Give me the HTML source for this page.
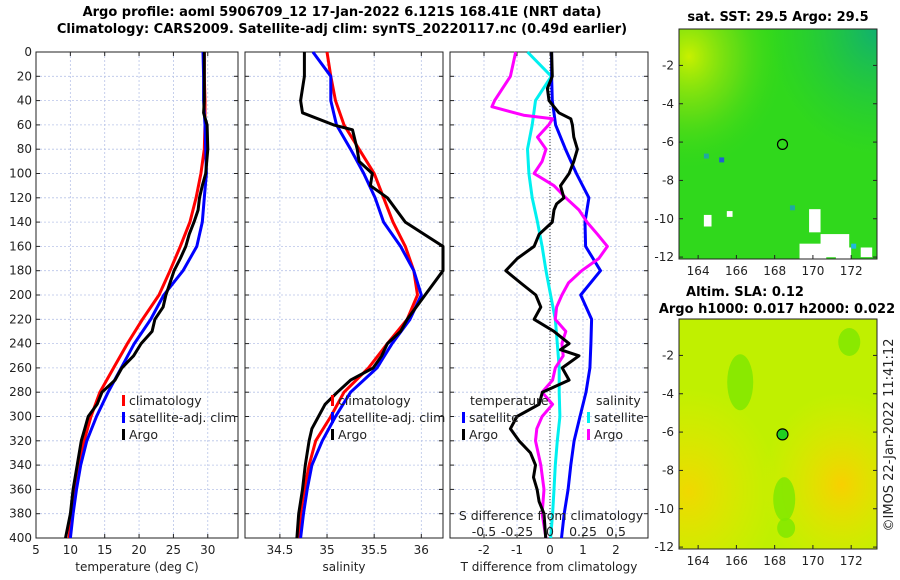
<!DOCTYPE html>
<html><head><meta charset="utf-8"><style>
body{margin:0;background:#fff;}
svg{display:block;font-family:"DejaVu Sans","Liberation Sans",sans-serif;}
.t{font-size:12px;fill:#222;}
.b{font-weight:bold;font-size:13px;fill:#000;}
</style></head><body>
<svg id="c" width="900" height="580" viewBox="0 0 900 580">
<defs>
<radialGradient id="gTL" cx="0.05" cy="0.12" r="0.5"><stop offset="0" stop-color="#c8f000"/><stop offset="0.5" stop-color="#80e010" stop-opacity="0.6"/><stop offset="1" stop-color="#32d818" stop-opacity="0"/></radialGradient>
<radialGradient id="gTR" cx="1" cy="0" r="0.55"><stop offset="0" stop-color="#10b070"/><stop offset="1" stop-color="#20c840" stop-opacity="0"/></radialGradient>
<radialGradient id="gO1" cx="0.82" cy="0.72" r="0.4"><stop offset="0" stop-color="#f8d000"/><stop offset="1" stop-color="#e8e800" stop-opacity="0"/></radialGradient>
<radialGradient id="gO2" cx="0.05" cy="0.75" r="0.45"><stop offset="0" stop-color="#f0d800"/><stop offset="1" stop-color="#e8e800" stop-opacity="0"/></radialGradient>
</defs>
<g>
<text class="b" x="342" y="16" text-anchor="middle">Argo profile: aoml 5906709_12 17-Jan-2022 6.121S 168.41E (NRT data)</text>
<text class="b" x="342" y="33" text-anchor="middle">Climatology: CARS2009. Satellite-adj clim: synTS_20220117.nc (0.49d earlier)</text>
<text class="b" x="778" y="21" text-anchor="middle">sat. SST: 29.5 Argo: 29.5</text>
<text class="b" x="745" y="296" text-anchor="middle">Altim. SLA: 0.12</text>
<text class="b" x="777" y="313" text-anchor="middle">Argo h1000: 0.017 h2000: 0.022</text>
<text class="t" transform="translate(893,435) rotate(-90)" text-anchor="middle" style="font-size:13px">©IMOS 22-Jan-2022 11:41:12</text>
</g>
<g id="maps"></g>
<g id="panels"></g>
</svg>
<script>
// ---------- data ----------
const depthTicks=[0,20,40,60,80,100,120,140,160,180,200,220,240,260,280,300,320,340,360,380,400];
const tempTicks=[5,10,15,20,25,30];
const salTicks=[34.5,35,35.5,36];
const diffTicks=[-2,-1,0,1,2];
const sdiffTickLabels=["-0.5","-0.25","0","0.25","0.5"];
const sdiffTicks=[-0.5,-0.25,0,0.25,0.5];

const climDepth=[0,20,40,60,80,100,120,140,160,180,200,220,240,260,280,300,320,340,360,380,400];
const tempClim=[29.5,29.5,29.6,29.6,29.5,29.0,28.3,27.4,26.0,24.5,22.9,20.5,18.3,16.3,14.3,13.0,12.0,11.3,10.7,10.2,9.8];
const tempSat=[29.3,29.4,29.4,29.6,29.7,29.8,29.5,29.2,28.4,26.4,23.6,21.7,19.3,17.4,15.5,13.8,12.4,11.5,10.9,10.4,10.0];
const salClim=[35.0,35.04,35.09,35.18,35.34,35.5,35.6,35.7,35.83,35.92,35.96,35.85,35.64,35.44,35.18,35.04,34.88,34.81,34.76,34.72,34.7];
const salSat=[34.85,35.04,35.04,35.1,35.25,35.39,35.51,35.6,35.78,35.92,36.0,35.88,35.69,35.53,35.25,35.09,34.95,34.84,34.79,34.75,34.72];

const argoTDepth=[0,40,50,60,80,100,110,120,130,140,150,160,170,180,190,200,210,220,230,240,250,260,270,280,290,300,310,320,340,360,380,400];
const argoTemp=[29.5,29.5,29.4,29.9,30.0,29.7,29.2,28.8,28.6,28.0,27.3,26.8,26.0,25.1,24.5,23.9,23.5,22.3,21.9,20.3,19.2,17.5,16.5,14.6,13.9,12.6,12.1,11.6,11.0,10.4,10.0,9.3];
const argoSDepth=[0,20,40,50,60,64,80,90,100,110,120,140,150,160,170,180,200,220,230,240,250,260,270,280,290,300,310,320,340,360,380,400];
const argoSal=[34.76,34.76,34.72,34.74,35.07,35.27,35.32,35.34,35.48,35.46,35.64,35.83,36.03,36.26,36.4,36.24,36.04,35.85,35.78,35.64,35.58,35.49,35.25,35.11,34.98,34.91,34.84,34.81,34.77,34.74,34.70,34.68];

const tDiffSat=[0.05,0.05,0.07,0.17,0.47,0.8,1.18,1.06,1.08,1.53,0.93,1.26,1.24,1.21,1.09,0.91,0.73,0.63,0.55,0.43,0.35];
const sDiffSat=[-0.17,0.01,-0.11,-0.135,-0.17,-0.16,-0.135,-0.095,-0.06,-0.03,0.005,0.04,0.055,0.07,0.07,0.075,0.055,0.04,0.03,0.02,0.005];
const diffTDepth=[0,20,30,40,50,55,60,70,80,90,100,110,120,125,130,140,150,160,170,180,190,200,210,220,230,240,245,250,260,270,280,290,300,310,320,330,340,350,360,370,380,400];
const tDiffArgo=[0.05,0.07,-0.08,-0.03,0.27,0.63,0.68,0.72,0.83,0.72,0.58,0.32,0.42,0.2,0.12,0.07,-0.33,-0.48,-0.99,-1.34,-0.89,-0.43,-0.28,-0.48,0.12,0.58,0.32,0.88,0.37,0.58,-0.23,-0.33,-1.0,-1.2,-0.94,-0.59,-0.44,-0.5,-0.39,-0.33,-0.18,-0.13];
const diffSDepth=[0,20,30,40,45,52,55,60,70,80,90,100,110,120,130,140,150,160,170,180,190,200,210,220,230,240,250,260,270,280,290,300,310,320,340,360,380,400];
const sDiffArgo=[-0.26,-0.3,-0.36,-0.42,-0.44,-0.2,0.02,-0.01,-0.095,-0.03,-0.06,-0.12,0.03,0.12,0.22,0.28,0.36,0.435,0.37,0.24,0.14,0.09,0.05,0.04,0.12,0.09,0.1,0.04,0.02,-0.06,0.02,-0.06,-0.1,-0.11,-0.07,-0.045,-0.06,-0.03];

// ---------- scales ----------
const Y0=52,Y1=538;
const yD=d=>Y0+(d/400)*(Y1-Y0);
const P1={x0:36,x1:238,v0:5,v1:34.4};
const P2={x0:245,x1:443,v0:34.13,v1:36.23};
const P3={x0:450,x1:648,v0:-3.03,v1:2.97};
const xs=(p,v)=>p.x0+(v-p.v0)/(p.v1-p.v0)*(p.x1-p.x0);
const NS='http://www.w3.org/2000/svg';
function mk(tag,attrs,parent){const e=document.createElementNS(NS,tag);for(const k in attrs)e.setAttribute(k,attrs[k]);parent.appendChild(e);return e;}
const G=document.getElementById('panels');

function panel(p,name,xt,xl,xlabel,showY){
  const g=mk('g',{},G);
  
  
  depthTicks.forEach(d=>{const l=mk('line',{x1:p.x0,x2:p.x1,y1:yD(d),y2:yD(d),stroke:'#b8c4e8','stroke-width':0.8,'stroke-dasharray':'2,2'},g);
    });
  xt.forEach(v=>{const l=mk('line',{x1:xs(p,v),x2:xs(p,v),y1:Y0,y2:Y1,stroke:'#b8c4e8','stroke-width':0.8,'stroke-dasharray':'2,2'},g);
    });
  depthTicks.forEach(d=>{mk('line',{x1:p.x0,x2:p.x0+4,y1:yD(d),y2:yD(d),stroke:'#222'},g);mk('line',{x1:p.x1-4,x2:p.x1,y1:yD(d),y2:yD(d),stroke:'#222'},g);
    if(showY){const t=mk('text',{x:p.x0-4,y:yD(d)+4,'text-anchor':'end',class:'t'},g);t.textContent=d;
      }});
  xt.forEach((v,i)=>{const x=xs(p,v);mk('line',{x1:x,x2:x,y1:Y1,y2:Y1-4,stroke:'#222'},g);mk('line',{x1:x,x2:x,y1:Y0,y2:Y0+4,stroke:'#222'},g);
    const t=mk('text',{x:x,y:554,'text-anchor':'middle',class:'t'},g);t.textContent=xl[i];
    });
  const r=mk('rect',{x:p.x0,y:Y0,width:p.x1-p.x0,height:Y1-Y0,fill:'none',stroke:'#222','stroke-width':1},g);
  
  const t=mk('text',{x:(p.x0+p.x1)/2,y:571,'text-anchor':'middle',class:'t'},g);t.textContent=xlabel;
  
  return g;
}
function line(g,p,vals,deps,color,name,scale){
  scale=scale||1;
  const pts=vals.map((v,i)=>[Math.max(p.x0,Math.min(p.x1,xs(p,v*scale))),yD(deps[i])]);
  const pl=mk('polyline',{points:pts.map(q=>q[0].toFixed(1)+','+q[1].toFixed(1)).join(' '),fill:'none',stroke:color,'stroke-width':3,'stroke-linejoin':'round'},g);
  
  
}
function legend(g,x,y,color,label){
  const r=mk('rect',{x:x,y:y-10,width:3,height:11,fill:color},g);
  
  const t=mk('text',{x:x+7,y:y,class:'t',style:'font-size:12.5px'},g);t.textContent=label;
  
}
const g1=panel(P1,'temperature-panel',tempTicks,tempTicks.map(String),'temperature (deg C)',true);
line(g1,P1,tempClim,climDepth,'#ff0000','temp-climatology-line');
line(g1,P1,tempSat,climDepth,'#0000ff','temp-satellite-line');
line(g1,P1,argoTemp,argoTDepth,'#000','temp-argo-line');
legend(g1,122,405,'#ff0000','climatology');legend(g1,122,422,'#0000ff','satellite-adj. clim');legend(g1,122,439,'#000','Argo');

const g2=panel(P2,'salinity-panel',salTicks,salTicks.map(String),'salinity',false);
line(g2,P2,salClim,climDepth,'#ff0000','sal-climatology-line');
line(g2,P2,salSat,climDepth,'#0000ff','sal-satellite-line');
line(g2,P2,argoSal,argoSDepth,'#000','sal-argo-line');
legend(g2,331,405,'#ff0000','climatology');legend(g2,331,422,'#0000ff','satellite-adj. clim');legend(g2,331,439,'#000','Argo');

const g3=panel(P3,'difference-panel',diffTicks,diffTicks.map(String),'T difference from climatology',false);
const zl=mk('line',{x1:xs(P3,0),x2:xs(P3,0),y1:Y0,y2:Y1,stroke:'#333','stroke-dasharray':'1,2','stroke-width':1},g3);

line(g3,P3,sDiffSat,climDepth,'#00f0f0','sdiff-satellite-line',4);
line(g3,P3,tDiffSat,climDepth,'#0000ff','tdiff-satellite-line');
line(g3,P3,sDiffArgo,diffSDepth,'#ff00ff','sdiff-argo-line',4);
line(g3,P3,tDiffArgo,diffTDepth,'#000','tdiff-argo-line');
[['temperature',470,405],['salinity',596,405]].forEach(a=>{const t=mk('text',{x:a[1],y:a[2],class:'t',style:'font-size:12.5px'},g3);t.textContent=a[0];
  });
legend(g3,462,422,'#0000ff','satellite');legend(g3,462,439,'#000','Argo');
legend(g3,587,422,'#00f0f0','satellite');legend(g3,587,439,'#ff00ff','Argo');
const st=mk('text',{x:551,y:520,'text-anchor':'middle',class:'t',style:'font-size:12.5px'},g3);st.textContent='S difference from climatology';

sdiffTicks.forEach((v,i)=>{const t=mk('text',{x:xs(P3,v*4),y:536,'text-anchor':'middle',class:'t',style:'font-size:12.5px'},g3);t.textContent=sdiffTickLabels[i];
  });

// ---------- maps ----------
const M=document.getElementById('maps');
const lonTicks=[164,166,168,170,172];const latTicks=[-2,-4,-6,-8,-10,-12];
function map(name,y0,y1,base,over){
  const g=mk('g',{},M);
  
  
  const X0=679,X1=877;
  const lx=l=>X0+(l-163.0)/(173.35-163.0)*(X1-X0);
  const ly=l=>y0+(l-(-0.1))/(-12.1+0.1)*(y1-y0);
  mk('rect',{x:X0,y:y0,width:X1-X0,height:y1-y0,fill:base},g);
  over(g,X0,y0,X1-X0,y1-y0,lx,ly);
  mk('rect',{x:X0,y:y0,width:X1-X0,height:y1-y0,fill:'none',stroke:'#222'},g);
  lonTicks.forEach(l=>{mk('line',{x1:lx(l),x2:lx(l),y1:y1,y2:y1-4,stroke:'#222'},g);
    const t=mk('text',{x:lx(l),y:y1+16,'text-anchor':'middle',class:'t'},g);t.textContent=l;
    });
  latTicks.forEach(l=>{mk('line',{x1:X0,x2:X0+4,y1:ly(l),y2:ly(l),stroke:'#222'},g);mk('line',{x1:X1-4,x2:X1,y1:ly(l),y2:ly(l),stroke:'#222'},g);
    const t=mk('text',{x:X0-5,y:ly(l)+4,'text-anchor':'end',class:'t'},g);t.textContent=l;
    });
  return g;
}
map('sst-map',29,259,'#30d81c',(g,x,y,w,h,lx,ly)=>{
  mk('rect',{x:x,y:y,width:w,height:h,fill:'url(#gTL)'},g);
  mk('rect',{x:x,y:y,width:w,height:h,fill:'url(#gTR)'},g);
  [[170.4,-10.8,1.5,1.2],[169.8,-9.5,0.6,1.2],[169.3,-11.3,1.4,0.9],[171.2,-11.5,0.8,0.6],[164.3,-9.8,0.4,0.6],[165.5,-9.6,0.3,0.3],[172.5,-11.5,0.6,0.5]].forEach(b=>{
    const r=mk('rect',{x:lx(b[0]),y:ly(b[1]),width:b[2]*19.1,height:b[3]*19.3,fill:'#fff'},g);
    });
  [[164.3,-6.6,'#20a8a0'],[165.1,-6.8,'#2060d0'],[172.0,-11.3,'#20b8e0'],[168.8,-9.3,'#20a8a0']].forEach(b=>{
    mk('rect',{x:lx(b[0]),y:ly(b[1]),width:5,height:5,fill:b[2]},g);});
  const c=mk('circle',{cx:lx(168.41),cy:ly(-6.12),r:5,fill:'none',stroke:'#000','stroke-width':1.2},g);
  
});
map('sla-map',319,549,'#c0f000',(g,x,y,w,h,lx,ly)=>{
  mk('rect',{x:x,y:y,width:w,height:h,fill:'url(#gO1)'},g);
  mk('rect',{x:x,y:y,width:w,height:h,fill:'url(#gO2)'},g);
  [[166.2,-3.4,13,28],[168.5,-9.5,11,22],[168.6,-11,9,10],[171.9,-1.3,11,14]].forEach(b=>{
    const e=mk('ellipse',{cx:lx(b[0]),cy:ly(b[1]),rx:b[2],ry:b[3],fill:'#80e800',opacity:0.85},g);
    });
  const c=mk('circle',{cx:lx(168.41),cy:ly(-6.12),r:5.5,fill:'#20d020',stroke:'#000','stroke-width':1.2},g);
  
});
</script>
</body></html>
